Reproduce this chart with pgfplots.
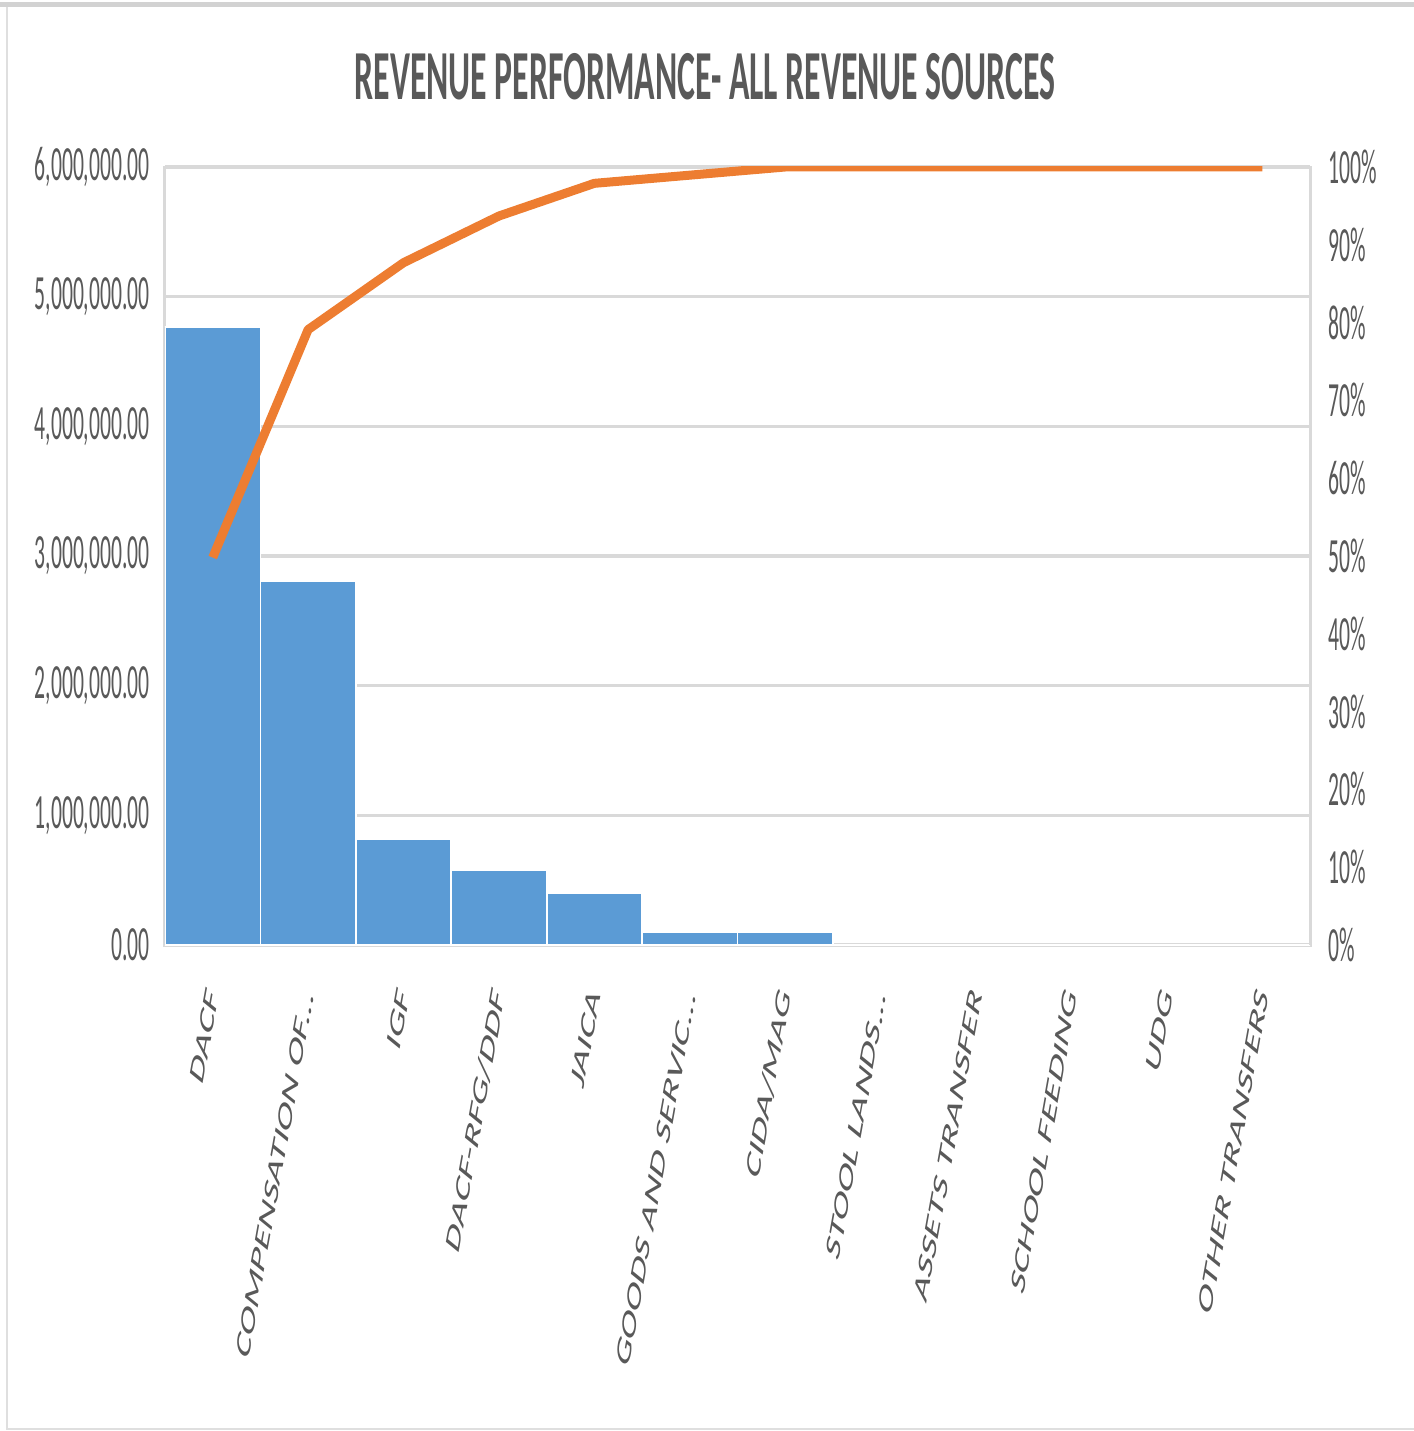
\documentclass[border=0pt]{standalone}
\usepackage{pgfplots}
\pgfplotsset{compat=1.18}
\usepackage{pgfplotstable}
\usepackage{fontspec}
\setmainfont{Carlito}
\definecolor{barblue}{HTML}{5B9BD5}
\definecolor{lineorange}{HTML}{ED7D31}
\definecolor{txtgray}{HTML}{595959}
\definecolor{gridgray}{HTML}{D9D9D9}
\newcommand{\dd}{.{}.{}.}

\pgfplotstableread{
x val cum
0 4766000 49.8
1 2807000 79.1
2 817000 87.7
3 578000 93.7
4 400000 97.9
5 100000 98.95
6 100000 100
7 0 100
8 0 100
9 0 100
10 0 100
11 0 100
}\datatab

\begin{document}
\begin{tikzpicture}
\useasboundingbox (-16.5mm,-48.6mm) rectangle (124.9mm,94.5mm);
\draw[gray!25, line width=0.25mm] (124.9mm,-48.4mm) -- (-15.8mm,-48.4mm) -- (-15.8mm,94.0mm);
\draw[gray!35, line width=0.5mm] (-16.5mm,94.0mm) -- (124.9mm,94.0mm);
\begin{axis}[
  at={(0,0)}, anchor=south west,
  scale only axis, width=114.5mm, height=77.8mm,
  xmin=-0.5, xmax=11.5, ymin=0, ymax=6000000,
  scaled y ticks=false,
  axis line style={gridgray, line width=0.3mm},
  ytick={0,1000000,2000000,3000000,4000000,5000000,6000000},
  yticklabels={0.00,{1,000,000.00},{2,000,000.00},{3,000,000.00},{4,000,000.00},{5,000,000.00},{6,000,000.00}},
  ymajorgrids, grid style={gridgray, line width=0.35mm},
  xtick={0,1,2,3,4,5,6,7,8,9,10,11},
  xticklabels={DACF,{COMPENSATION OF\dd},IGF,DACF-RFG/DDF,JAICA,{GOODS AND SERVIC\dd},CIDA/MAG,{STOOL LANDS\dd},ASSETS TRANSFER,SCHOOL FEEDING,UDG,OTHER TRANSFERS},
  major tick length=0,
  yticklabel style={font=\fontsize{14}{14}\selectfont, color=txtgray, anchor=east, inner sep=0pt, xscale=0.44},
  yticklabel shift=1.5mm,
  xticklabel style={font=\fontsize{12.8}{12.8}\selectfont, color=txtgray, anchor=east, inner sep=0pt, xscale=0.47, rotate=69},
  xticklabel shift=4.5mm,
  title={REVENUE PERFORMANCE- ALL REVENUE SOURCES},
  title style={font=\bfseries\fontsize{20}{20}\selectfont, color=txtgray, at={(0.4716,1)}, anchor=base, yshift=4.6mm, xscale=0.48},
]
\addplot[ybar, bar width=1, fill=barblue, draw=white, line width=0.5pt] table[x=x,y=val]{\datatab};
\end{axis}
\begin{axis}[
  at={(0,0)}, anchor=south west,
  scale only axis, width=114.5mm, height=77.8mm,
  xmin=-0.5, xmax=11.5, ymin=0, ymax=100,
  axis y line*=right, axis x line=none,
  axis line style={gridgray, line width=0.3mm},
  ytick={0,10,20,30,40,50,60,70,80,90,100},
  yticklabels={0\%,10\%,20\%,30\%,40\%,50\%,60\%,70\%,80\%,90\%,100\%},
  major tick length=0,
  yticklabel style={font=\fontsize{14}{14}\selectfont, color=txtgray, anchor=west, inner sep=0pt, xscale=0.44},
  yticklabel shift=1.8mm,
]
\addplot[lineorange, line width=0.9mm, line join=round] table[x=x,y=cum]{\datatab};
\end{axis}
\end{tikzpicture}
\end{document}
